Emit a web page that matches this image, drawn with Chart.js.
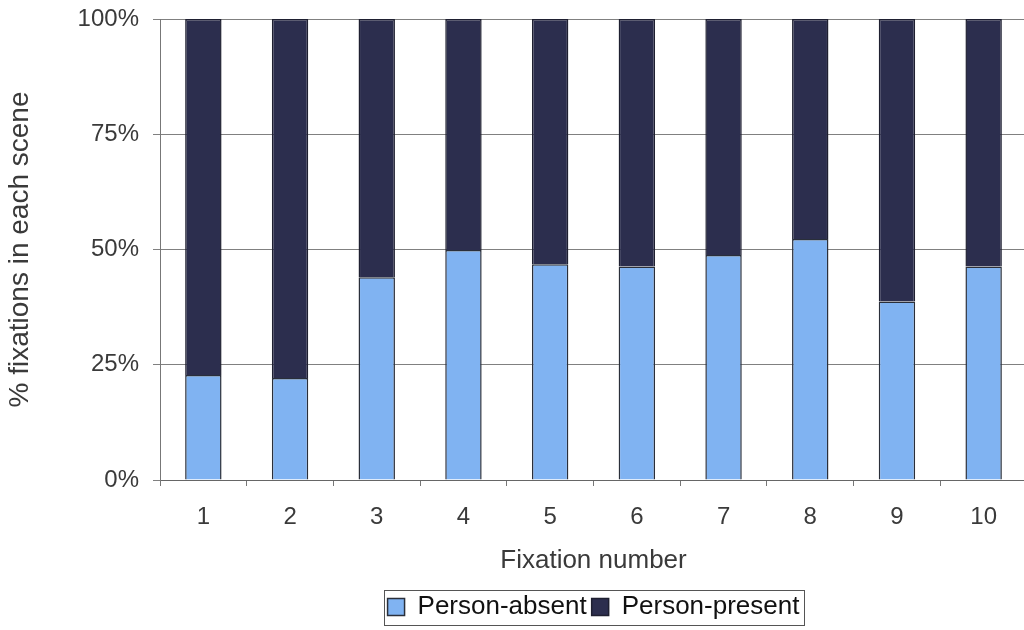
<!DOCTYPE html>
<html>
<head>
<meta charset="utf-8">
<script src="https://cdn.jsdelivr.net/npm/chart.js@4/dist/chart.umd.min.js"></script>
<style>
  html, body { margin: 0; padding: 0; background: #fff; overflow: hidden; }
  #wrap { width: 1032px; height: 630px; }
</style>
</head>
<body>
<div id="wrap"><canvas id="chart"></canvas></div>
<script>
// data (% of fixations per scene)
const fixations = ["1", "2", "3", "4", "5", "6", "7", "8", "9", "10"];
const personAbsent = [22.8, 22.1, 44.0, 49.9, 46.8, 46.3, 48.8, 52.3, 38.7, 46.3];
const personPresent = [77.2, 77.9, 56.0, 50.1, 53.2, 53.7, 51.2, 47.7, 61.3, 53.7];
const yTicks = [0, 25, 50, 75, 100];

const textColor = "#3a3a3a";
const fontFamily = "Arial, 'Liberation Sans', sans-serif";

// box drawn around the legend, like the excel one
const legendBorder = {
  id: "legendBorder",
  afterDraw(chart) {
    const boxes = chart.legend.legendHitBoxes;
    if (!boxes || !boxes.length) return;
    let left = Infinity, right = -Infinity, mid = 0;
    boxes.forEach(b => {
      left = Math.min(left, b.left);
      right = Math.max(right, b.left + b.width);
      mid = b.top + b.height / 2;
    });
    const ctx = chart.ctx;
    ctx.save();
    ctx.strokeStyle = "#555";
    ctx.lineWidth = 1;
    ctx.strokeRect(Math.round(left - 4) + 0.5, Math.round(mid - 17.5) + 0.5, Math.round(right - left + 8), 35);
    ctx.restore();
  }
};

const ctx = document.getElementById("chart");
new Chart(ctx, {
  type: "bar",
  data: {
    labels: fixations,
    datasets: [
      {
        label: "Person-absent",
        data: personAbsent,
        backgroundColor: "#80b3f2",
        borderColor: "#2a2f3a",
        borderWidth: 1.5,
        barPercentage: 0.42,
        categoryPercentage: 1
      },
      {
        label: "Person-present",
        data: personPresent,
        backgroundColor: "#2c2e4e",
        borderColor: "#1e1f30",
        borderWidth: 1.5,
        barPercentage: 0.42,
        categoryPercentage: 1
      }
    ]
  },
  options: {
    responsive: true,
    maintainAspectRatio: false,
    animation: false,
    layout: { padding: { left: 0, right: 5, top: 19, bottom: 0 } },
    plugins: {
      tooltip: { enabled: false },
      legend: {
        position: "bottom",
        fullSize: false,
        labels: {
          color: "#111",
          font: { family: fontFamily, size: 26 },
          boxWidth: 17,
          boxHeight: 17,
          padding: 5
        }
      }
    },
    scales: {
      x: {
        stacked: true,
        afterFit(scale) { scale.height = 109; },
        grid: { drawOnChartArea: false, drawTicks: true, tickLength: 6, color: "#777", offset: true },
        border: { color: "#666", width: 1 },
        ticks: { color: textColor, font: { family: fontFamily, size: 24 }, padding: 17, maxRotation: 0 },
        title: {
          display: true,
          text: "Fixation number",
          color: textColor,
          font: { family: fontFamily, size: 26 },
          padding: { top: 0, bottom: 13 }
        }
      },
      y: {
        stacked: true,
        min: 0,
        max: 100,
        afterFit(scale) {
          scale.width = 160;
          scale.paddingTop = 0;
          scale.paddingBottom = 0;
        },
        afterBuildTicks(scale) { scale.ticks = yTicks.map(v => ({ value: v })); },
        grid: { color: "#808080", tickLength: 7 },
        border: { color: "#777", width: 1 },
        ticks: {
          color: textColor,
          font: { family: fontFamily, size: 24 },
          padding: 14,
          callback: v => v + "%"
        },
        title: {
          display: true,
          text: "% fixations in each scene",
          color: textColor,
          font: { family: fontFamily, size: 28 },
          padding: { top: 3, bottom: 0 }
        }
      }
    }
  },
  plugins: [legendBorder]
});
</script>
</body>
</html>
